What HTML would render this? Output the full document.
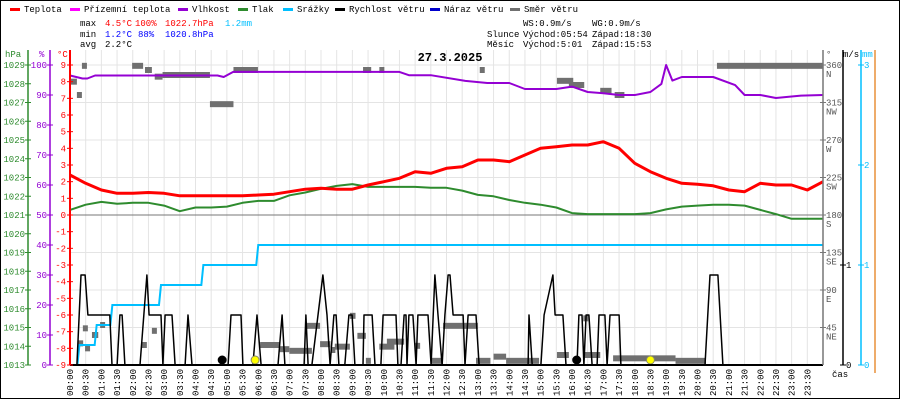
<!DOCTYPE html>
<html><head><meta charset="utf-8"><style>
html,body{margin:0;padding:0;background:#fff;}
svg{display:block;font-family:"Liberation Mono",monospace;}
</style></head><body>
<svg id="chart" width="900" height="400" viewBox="0 0 900 400" xmlns="http://www.w3.org/2000/svg">
<rect x="0.5" y="0.5" width="899" height="398" fill="#fff" stroke="#000"/>
<g id="grid"></g>
<g id="series"></g>
<g id="axes"></g>
<g id="legend" font-size="9"></g>
<g font-size="9">
<text x="80" y="26">max</text><text x="105" y="26" fill="#f00">4.5°C</text><text x="135" y="26" fill="#f00">100%</text><text x="165" y="26" fill="#f00">1022.7hPa</text><text x="225" y="26" fill="#00bfff">1.2mm</text>
<text x="80" y="37">min</text><text x="105" y="37" fill="#00f">1.2°C</text><text x="138" y="37" fill="#00f">88%</text><text x="165" y="37" fill="#00f">1020.8hPa</text>
<text x="80" y="47">avg</text><text x="105" y="47">2.2°C</text>
<text x="523" y="26">WS:0.9m/s</text><text x="592" y="26">WG:0.9m/s</text>
<text x="487" y="37">Slunce</text><text x="523" y="37">Východ:05:54</text><text x="592" y="37">Západ:18:30</text>
<text x="487" y="47">Měsíc</text><text x="523" y="47">Východ:5:01</text><text x="592" y="47">Západ:15:53</text>
</g>
<text x="450" y="61" text-anchor="middle" font-size="12" font-weight="bold">27.3.2025</text>
</svg>
<script>
// ---- data ----
const halfHours = [0,0.5,1,1.5,2,2.5,3,3.5,4,4.5,5,5.5,6,6.5,7,7.5,8,8.5,9,9.5,10,10.5,11,11.5,12,12.5,13,13.5,14,14.5,15,15.5,16,16.5,17,17.5,18,18.5,19,19.5,20,20.5,21,21.5,22,22.5,23,23.5,24];
const tempVals = [2.4,1.9,1.5,1.3,1.3,1.35,1.3,1.15,1.15,1.15,1.15,1.15,1.2,1.25,1.4,1.55,1.6,1.55,1.55,1.8,2.0,2.2,2.6,2.5,2.8,2.9,3.3,3.3,3.2,3.6,4.0,4.1,4.2,4.2,4.4,4.0,3.1,2.6,2.2,1.9,1.85,1.75,1.5,1.4,1.9,1.8,1.8,1.5,2.0];
const pressVals = [1021.27,1021.55,1021.7,1021.6,1021.65,1021.65,1021.5,1021.2,1021.4,1021.4,1021.45,1021.65,1021.75,1021.75,1022.05,1022.2,1022.4,1022.55,1022.65,1022.5,1022.5,1022.5,1022.5,1022.45,1022.45,1022.3,1022.07,1022.0,1021.8,1021.65,1021.55,1021.4,1021.1,1021.05,1021.05,1021.05,1021.05,1021.1,1021.3,1021.45,1021.5,1021.55,1021.55,1021.5,1021.27,1021.05,1020.8,1020.8,1020.8];
const humTimes = [0,0.4,0.55,0.8,4.7,4.9,5.2,10.5,10.8,11.5,12.6,13.3,14.0,14.5,15.5,16.0,16.5,17.0,17.5,18.0,18.5,18.85,19.0,19.2,19.5,20.5,21.2,21.5,22.0,22.5,23.0,23.3,24];
const humVals = [96.5,95.5,95.5,96.5,96.5,96,97.7,97.7,96.6,96.6,94.7,94,94,92,92,92.8,91,90.6,90,90,91,93.7,100,94.8,96,96,93.3,90,90,89,89.5,89.8,90];
const rainTimes = [0.2,0.3,0.85,1.35,2.9,4.25,6.0,24];
const rainVals = [0,0.2,0.4,0.6,0.8,1.0,1.2,1.2];
const windTimes = [
 0,0.22,0.35,0.48,0.57,1.27,1.34,1.50,1.59,1.66,
 1.75,2.23,2.45,2.52,2.90,2.96,3.03,3.25,3.35,3.67,
 3.76,3.89,5.04,5.13,5.45,5.51,5.83,5.96,6.09,6.63,
 6.76,6.85,7.46,7.52,7.59,7.71,8.06,8.19,8.29,8.41,
 8.48,8.57,8.76,8.89,8.99,9.08,9.34,9.37,9.63,9.72,
 9.91,9.98,10.39,10.45,10.55,10.65,10.71,10.74,10.80,10.93,
 11.03,11.09,11.41,11.51,11.63,11.73,11.86,11.95,12.05,12.11,
 12.21,12.53,12.59,12.69,12.94,13.04,14.60,14.63,14.73,15.01,
 15.11,15.39,15.46,15.71,15.81,16.16,16.22,16.32,16.38,16.45,
 16.54,16.64,16.80,16.86,17.05,17.12,17.21,17.50,17.56,20.24,
 20.40,20.65,20.81,24];
const windVals = [
 0,0,0.9,0.9,0.5,0.5,0,0,0.5,0.5,
 0,0,0.9,0.5,0.5,0,0.5,0.5,0,0,
 0.5,0,0,0.5,0.5,0,0,0.5,0,0,
 0.5,0,0,0.5,0,0,0.9,0.5,0,0.5,
 0.5,0,0,0.5,0.5,0,0,0.5,0.5,0,
 0,0.5,0.5,0,0,0.5,0.5,0,0.5,0.5,
 0,0.5,0.5,0,0.9,0.5,0,0.5,0.9,0.9,
 0.5,0.5,0,0.5,0.5,0,0,0.5,0,0,
 0.5,0.9,0.5,0.5,0,0,0.5,0.5,0,0.5,
 0.5,0,0,0.5,0.5,0,0.5,0.5,0,0,
 0.9,0.9,0,0];
const dirStart = [0,0.22,0.38,1.98,2.39,2.7,2.95,4.46,5.21,0.41,0.7,0.26,0.96,0.48,2.29,2.61,6.06,6.68,6.99,7.49,7.97,8.3,8.44,8.92,9.16,9.43,9.86,10.1,11.0,11.51,11.89,12.94,13.5,13.9,15.52,15.9,16.36,16.35,17.31,19.3,9.34,9.86,13.06,15.52,16.1,16.9,17.36,20.62];
const dirEnd = [0.22,0.29,0.5,2.33,2.61,2.95,4.46,5.21,5.99,0.54,0.9,0.38,1.07,0.6,2.39,2.7,6.68,6.99,7.71,7.97,8.3,8.44,8.92,9.1,9.43,9.58,10.34,10.65,11.0,11.89,13.0,13.4,13.9,14.95,15.9,16.36,16.45,16.9,19.3,20.27,9.6,10.0,13.16,16.04,16.39,17.26,17.67,24];
const dirVals = [340,324,359,359,354,346,348,313,354,44,36,26,48,20,24,41,24,19,17,47,25,18,22,59,35,5,22,28,23,5,47,5,10,5,12,336,56,12,8,5,354,354,354,341,336,329,324,359];
const markTimes = [4.85,5.9,16.15,18.5];
const markKinds = ['moon','sun','moon','sun'];
const hpaTicks = [1013,1014,1015,1016,1017,1018,1019,1020,1021,1022,1023,1024,1025,1026,1027,1028,1029];
const pctTicks = [0,10,20,30,40,50,60,70,80,90,100];
const tempTicks = [-9,-8,-7,-6,-5,-4,-3,-2,-1,0,1,2,3,4,5,6,7,8,9];
const dirTicks = [45,90,135,180,225,270,315,360];
const dirNames = ['NE','E','SE','S','SW','W','NW','N'];
const msTicks = [0,1];
const mmTicks = [0,1,2,3];
const legendNames = ['Teplota','Přízemní teplota','Vlhkost','Tlak','Srážky','Rychlost větru','Náraz větru','Směr větru'];
const legendColors = ['#f00','#f0f','#9400d3','#2e8b2e','#00bfff','#000','#00c','#707070'];

// ---- scales ----
const X0=70, X1=823, Y0=65, Y1=365;
const xS = h => X0 + h*(X1-X0)/24;
const tS = v => 215 - v*(Y1-Y0)/18;
const pS = v => Y1 - (v-1013)*(Y1-Y0)/16;
const hS = v => Y1 - v*(Y1-Y0)/100;
const dS = v => Y1 - v*(Y1-Y0)/360;
const wS = v => Y1 - v*100;
const rS = v => Y1 - v*100;
const NS='http://www.w3.org/2000/svg';
function mk(tag, attrs, parent){const e=document.createElementNS(NS,tag);for(const k in attrs)e.setAttribute(k,attrs[k]);parent.appendChild(e);return e;}
const grid=document.getElementById('grid'), ser=document.getElementById('series'), ax=document.getElementById('axes'), lg=document.getElementById('legend');

// grid
for(let i=0;i<=48;i++){const x=xS(i*0.5);const l=mk('line',{x1:x,x2:x,y1:50,y2:Y1,stroke:'#e4e4e4'},grid);

}
for(let i=0;i<=8;i++){const y=Y0+i*37.5;const l=mk('line',{x1:X0,x2:X1,y1:y,y2:y,stroke:i==4?'#777':'#e4e4e4'},grid);

}

function poly(ts,vs,sc,color,w,name){let d='';const n=Math.min(ts.length,vs.length);for(let i=0;i<n;i++){d+=(i?'L':'M')+xS(ts[i]).toFixed(1)+','+sc(vs[i]).toFixed(1);}
const p=mk('path',{d:d,fill:'none',stroke:color,'stroke-width':w,'stroke-linejoin':'round'},ser);

}

// wind direction segments
dirVals.forEach((v,i)=>{const x1=xS(dirStart[i]),x2=Math.max(xS(dirEnd[i]),x1+5);const r=mk('rect',{x:x1,y:dS(v)-3,width:x2-x1,height:6,fill:'#707070'},ser);

});
// rain steps
(function(){let d='M'+xS(rainTimes[0])+','+rS(rainVals[0]);for(let i=1;i<rainTimes.length;i++){d+='L'+(xS(rainTimes[i])-2)+','+rS(rainVals[i-1])+'L'+xS(rainTimes[i])+','+rS(rainVals[i]);}
const p=mk('path',{d:d,fill:'none',stroke:'#00bfff','stroke-width':2},ser);

})();
poly(windTimes,windVals,wS,'#000',1.5,'wind-speed-line');
poly(halfHours,pressVals,pS,'#2e8b2e',2,'pressure-line');
poly(humTimes,humVals,hS,'#9400d3',2,'humidity-line');
poly(halfHours,tempVals,tS,'#f00',3,'temperature-line');
markTimes.forEach((t,i)=>{const c=mk('circle',{cx:xS(t),cy:360,r:4,fill:markKinds[i]=='sun'?'#ff0':'#000',stroke:markKinds[i]=='sun'?'#886':'#000'},ser);

});
const bl=mk('line',{x1:X0,x2:X1,y1:Y1,y2:Y1,stroke:'#000','stroke-width':2},ser);



// axes
function vaxis(x,color,name,y2){const l=mk('line',{x1:x,x2:x,y1:50,y2:y2||Y1,stroke:color,'stroke-width':x==X0?2:1.5},ax);

}
vaxis(28,'#2e8b2e','hpa-axis');vaxis(50,'#9400d3','humidity-axis');vaxis(X0,'#f00','temp-axis');
vaxis(X1,'#777','direction-axis');vaxis(843,'#000','wind-axis');vaxis(861,'#00bfff','rain-axis');vaxis(875,'#e8913a','orange-axis',373);
function ticks(arr,sc,x,color,anchor,dx,name){arr.forEach(v=>{const y=sc(v);mk('line',{x1:x-3,x2:x+3,y1:y,y2:y,stroke:color},ax);
const t=mk('text',{x:x+dx,y:y+3,fill:color,'font-size':9,'text-anchor':anchor},ax);t.textContent=String(v);

});}
ticks(hpaTicks,pS,28,'#2e8b2e','end',-3,'hpa-tick-label');
ticks(pctTicks,hS,50,'#9400d3','end',-3,'humidity-tick-label');
ticks(tempTicks,tS,X0,'#f00','end',-4,'temp-tick-label');
ticks(msTicks,wS,843,'#000','start',3,'wind-tick-label');
ticks(mmTicks,rS,861,'#00bfff','start',3,'rain-tick-label');
dirTicks.forEach((v,i)=>{const y=dS(v);mk('line',{x1:X1-3,x2:X1+3,y1:y,y2:y,stroke:'#777'},ax);
const t=mk('text',{x:X1+3,y:y+3,fill:'#555','font-size':9},ax);t.textContent=String(v);


const n=mk('text',{x:X1+3,y:y+12,fill:'#555','font-size':9},ax);n.textContent=dirNames[i];

});
[['hPa',5,'#2e8b2e'],['%',39,'#9400d3'],['°C',57,'#f00'],['°',826,'#555'],['m/s',843,'#000'],['mm',862,'#00bfff']].forEach(a=>{const t=mk('text',{x:a[1],y:57,fill:a[2],'font-size':9},ax);t.textContent=a[0];

});
const cas=mk('text',{x:832,y:377,'font-size':9},ax);cas.textContent='čas';


for(let i=0;i<48;i++){const h=i*0.5;const x=xS(h)+3;const lab=String(Math.floor(h)).padStart(2,'0')+':'+(i%2?'30':'00');
const t=mk('text',{x:0,y:0,'font-size':9,'text-anchor':'end',transform:'translate('+x+',369) rotate(-90)'},ax);t.textContent=lab;

}

// legend
const lx=[10,70,178,238,283,335,430,510];
legendNames.forEach((n,i)=>{mk('rect',{x:lx[i],y:8,width:10,height:3,fill:legendColors[i]},lg);
const t=mk('text',{x:lx[i]+14,y:12},lg);t.textContent=n;

});
</script>
</body></html>
